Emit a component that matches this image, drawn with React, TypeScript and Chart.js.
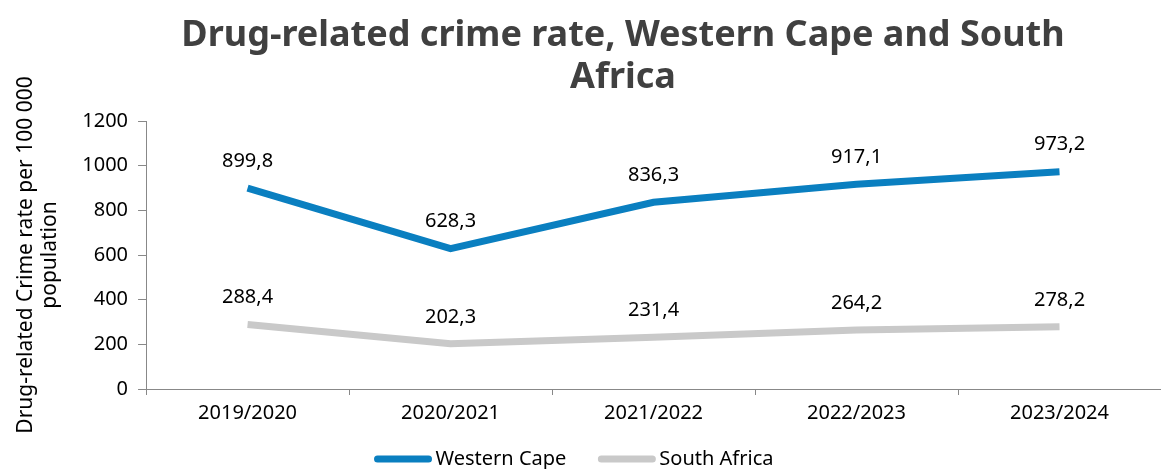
import React, { useEffect, useRef } from "react";
import { Chart, registerables } from "chart.js";

Chart.register(...registerables);

const categories = ["2019/2020", "2020/2021", "2021/2022", "2022/2023", "2023/2024"];
const westernCape = [899.8, 628.3, 836.3, 917.1, 973.2];
const southAfrica = [288.4, 202.3, 231.4, 264.2, 278.2];
const seriesNames = ["Western Cape", "South Africa"];
const seriesColors = ["#0a7fc0", "#c9c9c9"];
const titleLines = ["Drug-related crime rate, Western Cape and South", "Africa"];
const yTitle = ["Drug-related Crime rate per 100 000", "population"];

const FONT = "'Noto Sans', sans-serif";

const fmt = (v: number) => v.toFixed(1).replace(".", ",");

const labelsPlugin = {
  id: "customLabels",
  afterDatasetsDraw(chart: any) {
    const ctx = chart.ctx;
    ctx.save();
    ctx.font = `20px ${FONT}`;
    ctx.fillStyle = "#000";
    ctx.textAlign = "center";
    ctx.textBaseline = "middle";
    chart.data.datasets.forEach((ds: any, i: number) => {
      const meta = chart.getDatasetMeta(i);
      meta.data.forEach((pt: any, j: number) => {
        ctx.fillText(fmt(ds.data[j]), pt.x, pt.y - 27);
      });
    });
    ctx.restore();
  },
  afterDraw(chart: any) {
    // legend
    const ctx = chart.ctx;
    ctx.save();
    ctx.font = `20px ${FONT}`;
    ctx.textBaseline = "middle";
    ctx.textAlign = "left";
    const y = 459;
    const lineW = 57;
    const gapText = 4;
    const gapItems = 32;
    const widths = seriesNames.map((n) => lineW + gapText + ctx.measureText(n).width);
    const total = widths.reduce((a, b) => a + b, 0) + gapItems * (widths.length - 1);
    let x = 574 - total / 2;
    seriesNames.forEach((n, i) => {
      ctx.strokeStyle = seriesColors[i];
      ctx.lineWidth = 7;
      ctx.lineCap = "round";
      ctx.beginPath();
      ctx.moveTo(x + 3, y);
      ctx.lineTo(x + lineW - 3, y);
      ctx.stroke();
      ctx.fillStyle = "#000";
      ctx.fillText(n, x + lineW + gapText, y);
      x += widths[i] + gapItems;
    });
    ctx.restore();
  },
  beforeDraw(chart: any) {
    const ctx = chart.ctx;
    ctx.save();
    ctx.font = `bold 36px ${FONT}`;
    ctx.fillStyle = "#404040";
    ctx.textAlign = "center";
    ctx.textBaseline = "middle";
    ctx.fillText(titleLines[0], 623, 36);
    ctx.fillText(titleLines[1], 623, 78);
    ctx.restore();
  },
};

export default function App() {
  const ref = useRef<HTMLCanvasElement>(null);
  useEffect(() => {
    if (!ref.current) return;
    const chart = new Chart(ref.current, {
      type: "line",
      data: {
        labels: categories,
        datasets: [
          {
            label: seriesNames[0],
            data: westernCape,
            borderColor: seriesColors[0],
            backgroundColor: seriesColors[0],
            borderWidth: 7,
            pointRadius: 0,
            tension: 0,
          },
          {
            label: seriesNames[1],
            data: southAfrica,
            borderColor: seriesColors[1],
            backgroundColor: seriesColors[1],
            borderWidth: 7,
            pointRadius: 0,
            tension: 0,
          },
        ],
      },
      options: {
        animation: false,
        responsive: false,
        maintainAspectRatio: false,
        layout: { padding: { top: 121, right: 0, left: 14, bottom: 38 } },
        plugins: {
          title: { display: false },
          tooltip: { enabled: false },
          legend: { display: false },
        },
        scales: {
          x: {
            offset: true,
            grid: {
              display: true,
              drawOnChartArea: false,
              drawTicks: true,
              tickLength: 6,
              offset: true,
              color: "#888",
            },
            border: { color: "#888" },
            ticks: { font: { family: FONT, size: 20 }, color: "#000", padding: 6 },
          },
          y: {
            min: 0,
            max: 1200,
            grid: {
              display: true,
              drawOnChartArea: false,
              drawTicks: true,
              tickLength: 8,
              color: "#888",
            },
            border: { color: "#888" },
            ticks: {
              stepSize: 200,
              font: { family: FONT, size: 20 },
              color: "#000",
              padding: 10,
              callback: (v: any) => String(v),
            },
            title: {
              display: true,
              text: yTitle,
              font: { family: FONT, size: 21, lineHeight: 1.15 },
              color: "#000",
              padding: { top: 0, bottom: 10 },
            },
          },
        },
      },
      plugins: [labelsPlugin],
    });
    return () => chart.destroy();
  }, []);
  return (
    <div style={{ position: "absolute", left: 0, top: 0, width: 1161, height: 469, background: "#fff" }}>
      <canvas ref={ref} width={1161} height={469} style={{ display: "block" }} />
    </div>
  );
}
